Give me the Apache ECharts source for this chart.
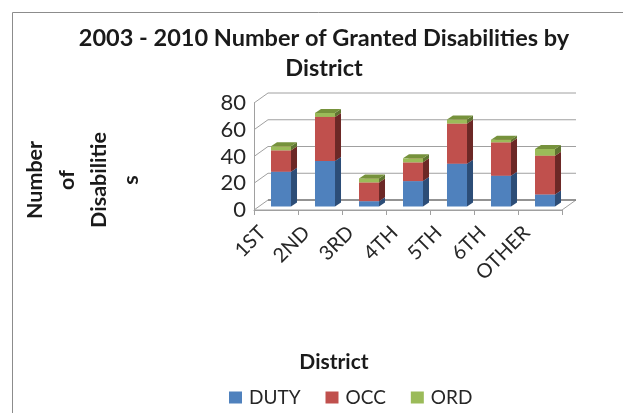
<!DOCTYPE html>
<html><head><meta charset="utf-8">
<script src="https://cdn.jsdelivr.net/npm/echarts@6/dist/echarts.min.js"></script>
<style>html,body{margin:0;padding:0;background:#fff}#c{width:623px;height:413px}</style>
</head><body><div id="c"></div>
<script>
const categories = ['1ST','2ND','3RD','4TH','5TH','6TH','OTHER'];
const duty = [26, 34, 4, 19, 32, 23, 9];
const occ  = [16, 33, 14, 14, 30, 25, 29];
const ord  = [3, 3, 3, 3, 3, 2, 5];
const yTicks = [0, 20, 40, 60, 80];

const FONT = 'Lato, "Liberation Sans", sans-serif';
const WDX = 14, WDY = 10;   // wall depth
const HX = 5, HY = 3.5;     // bar placement in depth
const SX = 6, SY = 4;       // bar side depth

const seriesDefs = [
  {name:'DUTY', vals:duty, front:'#4F81BD', side:'#2C4D77', top:'#6F95C8'},
  {name:'OCC',  vals:occ,  front:'#C0504D', side:'#6C2826', top:'#D07875'},
  {name:'ORD',  vals:ord,  front:'#9BBB59', side:'#5F7531', top:'#76923C'}
];

const cum = categories.map(()=>0);
const barSeries = seriesDefs.map(def => {
  const data = def.vals.map((v,i) => { const b = cum[i]; cum[i] += v; return [i, b, b+v]; });
  return {
    type:'custom', name:def.name, coordinateSystem:'cartesian2d',
    itemStyle:{color:def.front},
    encode:{x:0, y:2},
    data,
    renderItem:(params, api) => {
      const i = api.value(0), b = api.value(1), t = api.value(2);
      const bw = api.size([1,0])[0]*0.455;
      const cx = api.coord([i,0])[0] + HX;
      const yb = api.coord([i,b])[1] - HY;
      const yt = api.coord([i,t])[1] - HY;
      const xl = cx - bw/2, xr = cx + bw/2;
      return {type:'group', children:[
        {type:'rect', shape:{x:xl, y:yt, width:bw, height:yb-yt}, style:{fill:def.front}},
        {type:'polygon', shape:{points:[[xr,yb],[xr+SX,yb-SY],[xr+SX,yt-SY],[xr,yt]]}, style:{fill:def.side}},
        {type:'polygon', shape:{points:[[xl,yt],[xr,yt],[xr+SX,yt-SY],[xl+SX,yt-SY]]}, style:{fill:def.top}}
      ]};
    }
  };
});

const wallSeries = {
  type:'custom', name:'walls', coordinateSystem:'cartesian2d', silent:true, z:1,
  data: yTicks.map(v => [0, v]),
  encode:{x:0, y:1},
  renderItem:(params, api) => {
    const cs = params.coordSys;
    const v = api.value(1);
    const y = api.coord([0, v])[1];
    const x0 = cs.x, x1 = cs.x + cs.width;
    const children = [];
    if (v === 0) {
      children.push({type:'polygon', shape:{points:[[x0,y],[x1,y],[x1+WDX,y-WDY],[x0+WDX,y-WDY]]},
        style:{fill:'#fff', stroke:'#A0A0A0', lineWidth:1}});
      children.push({type:'line', shape:{x1:x0+WDX, y1:y-WDY, x2:x1+WDX, y2:y-WDY}, style:{stroke:'#7F7F7F', lineWidth:1.5}});
    } else {
      children.push({type:'polyline', shape:{points:[[x0,y],[x0+WDX,y-WDY],[x1+WDX,y-WDY]]},
        style:{stroke:'#A0A0A0', lineWidth:1, fill:null}});
    }
    return {type:'group', children};
  }
};

const chart = echarts.init(document.getElementById('c'), null, {renderer:'canvas'});
chart.setOption({
  animation:false,
  backgroundColor:'#fff',
  textStyle:{fontFamily:FONT},
  graphic:[
    {type:'rect', shape:{x:12.5, y:12.5, width:700, height:500}, style:{fill:null, stroke:'#8C8C8C', lineWidth:1}, z:-10},
    {type:'text', x:324, y:38, style:{text:'2003 - 2010 Number of Granted Disabilities by', font:'bold 23.5px '+FONT, fill:'#1a1a1a', align:'center', verticalAlign:'middle'}},
    {type:'text', x:324, y:68, style:{text:'District', font:'bold 23.5px '+FONT, fill:'#1a1a1a', align:'center', verticalAlign:'middle'}},
    {type:'text', x:83, y:180, rotation:Math.PI/2, style:{text:'Number\nof\nDisabilitie\ns', font:'bold 21.5px '+FONT, lineHeight:32, fill:'#1a1a1a', align:'center', verticalAlign:'middle'}},
    {type:'text', x:334, y:362, style:{text:'District', font:'bold 21px '+FONT, fill:'#1a1a1a', align:'center', verticalAlign:'middle'}}
  ],
  legend:{
    top:388, left:229, padding:0, icon:'rect', itemWidth:13, itemHeight:12, itemGap:25,
    textStyle:{fontSize:19, color:'#262626', fontFamily:FONT, padding:[0,0,0,2]},
    data:['DUTY','OCC','ORD']
  },
  grid:{left:254, right:61, top:103, bottom:203, containLabel:false},
  xAxis:{
    type:'category', data:categories, boundaryGap:true,
    axisLine:{show:true, lineStyle:{color:'#A0A0A0'}},
    axisTick:{show:true, length:5, lineStyle:{color:'#A0A0A0'}},
    axisLabel:{rotate:45, fontSize:20, color:'#262626', margin:6, padding:[0,19,0,0], interval:0, fontFamily:FONT}
  },
  yAxis:{
    type:'value', min:0, max:80, interval:20,
    axisLine:{show:true, lineStyle:{color:'#A0A0A0'}},
    axisTick:{show:false},
    splitLine:{show:false},
    axisLabel:{fontSize:22, color:'#262626', margin:8, fontFamily:FONT}
  },
  series:[wallSeries].concat(barSeries)
});
</script></body></html>
